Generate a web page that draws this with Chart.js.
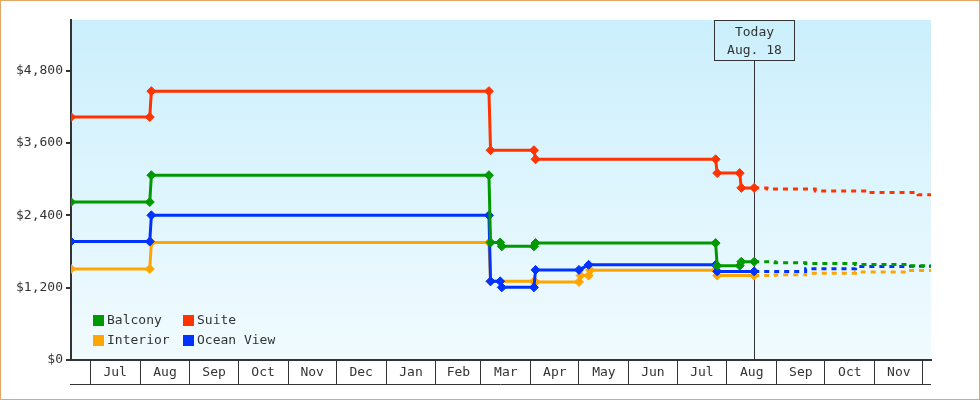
<!DOCTYPE html>
<html>
<head>
<meta charset="utf-8">
<script src="https://cdn.jsdelivr.net/npm/chart.js@4.4.1/dist/chart.umd.min.js"></script>
<style>
html,body{margin:0;padding:0;background:#fff;}
canvas{display:block;}
</style>
</head>
<body>
<canvas id="c" width="980" height="400"></canvas>
<script>
// ---- data ----
const monthStarts = ['2014-07-01','2014-08-01','2014-09-01','2014-10-01','2014-11-01','2014-12-01','2015-01-01','2015-02-01','2015-03-01','2015-04-01','2015-05-01','2015-06-01','2015-07-01','2015-08-01','2015-09-01','2015-10-01','2015-11-01','2015-12-01'];
const monthLabels = ['Jul','Aug','Sep','Oct','Nov','Dec','Jan','Feb','Mar','Apr','May','Jun','Jul','Aug','Sep','Oct','Nov'];
const yTicks = [0, 1200, 2400, 3600, 4800];
const xStart = '2014-06-19';
const xEnd = '2015-12-06';
const yMax = 5640;
const todayDate = '2015-08-18';
const todayText = ['Today', 'Aug. 18'];
const seriesNames = ['Balcony', 'Suite', 'Interior', 'Ocean View'];

const balcony = [['2014-06-19',2620],['2014-08-07',2620],['2014-08-08',3065],['2015-03-06',3065],['2015-03-07',1950],['2015-03-13',1950],['2015-03-14',1885],['2015-04-03',1885],['2015-04-04',1940],['2015-07-25',1940],['2015-07-26',1565],['2015-08-09',1565],['2015-08-10',1630],['2015-08-18',1630]];
const suite = [['2014-06-19',4030],['2014-08-07',4030],['2014-08-08',4460],['2015-03-06',4460],['2015-03-07',3480],['2015-04-03',3480],['2015-04-04',3330],['2015-07-25',3330],['2015-07-26',3100],['2015-08-09',3100],['2015-08-10',2855],['2015-08-18',2855]];
const interior = [['2014-06-19',1510],['2014-08-07',1510],['2014-08-08',1950],['2015-03-06',1950],['2015-03-07',1305],['2015-04-03',1305],['2015-04-04',1295],['2015-05-01',1295],['2015-05-02',1400],['2015-05-07',1400],['2015-05-08',1490],['2015-07-25',1490],['2015-07-26',1400],['2015-08-18',1400]];
const oceanView = [['2014-06-19',1965],['2014-08-07',1965],['2014-08-08',2400],['2015-03-06',2400],['2015-03-07',1305],['2015-03-13',1305],['2015-03-14',1205],['2015-04-03',1205],['2015-04-04',1495],['2015-05-01',1495],['2015-05-07',1578],['2015-07-25',1578],['2015-07-26',1470],['2015-08-18',1470]];

const balconyForecast = [['2015-08-18',1630],['2015-08-31',1612],['2015-09-19',1600],['2015-10-20',1585],['2015-11-22',1565],['2015-12-06',1565]];
const suiteForecast = [['2015-08-18',2855],['2015-08-26',2835],['2015-09-25',2805],['2015-10-27',2778],['2015-11-28',2740],['2015-12-06',2740]];
const interiorForecast = [['2015-08-18',1400],['2015-08-31',1415],['2015-09-19',1440],['2015-10-20',1458],['2015-11-22',1485],['2015-12-06',1485]];
const oceanViewForecast = [['2015-08-18',1470],['2015-09-19',1515],['2015-10-20',1550],['2015-11-22',1555],['2015-12-06',1555]];

const colors = ['#009900', '#ff3300', '#ffa500', '#0033ff'];
const drawOrder = [1, 2, 4, 3];

// ---- helpers ----
const day = s => Date.parse(s) / 86400000;
const toXY = arr => arr.map(([d, v]) => ({x: day(d), y: v}));
const FONT = {family: '"DejaVu Sans Mono", monospace', size: 13};
const INK = '#333333';

const history = [balcony, suite, interior, oceanView];
const forecast = [balconyForecast, suiteForecast, interiorForecast, oceanViewForecast];

const datasets = [];
history.forEach((h, i) => {
  datasets.push({
    label: seriesNames[i], data: toXY(h), borderColor: colors[i], backgroundColor: colors[i],
    borderWidth: 3, pointStyle: 'rectRot', pointRadius: 4.5, pointBorderWidth: 1,
    pointBackgroundColor: colors[i], pointBorderColor: colors[i], order: drawOrder[i],
    isMain: true
  });
});
forecast.forEach((f, i) => {
  datasets.push({
    label: seriesNames[i] + ' forecast', data: toXY(f), borderColor: colors[i], backgroundColor: colors[i],
    borderWidth: 3, borderDash: [5, 5], pointRadius: 0, stepped: true, order: drawOrder[i] + 0.5,
    isMain: false
  });
});

// month boundary + mid ticks
const boundaryVals = monthStarts.map(day);
const labelMap = {};
const midVals = monthLabels.map((l, i) => {
  const v = (boundaryVals[i] + boundaryVals[i + 1]) / 2;
  labelMap[v] = l;
  return v;
});
const boundarySet = new Set(boundaryVals);

const bgPlugin = {
  id: 'bg',
  beforeDraw(chart) {
    const {ctx, chartArea: a, width, height} = chart;
    ctx.save();
    ctx.fillStyle = '#ffffff';
    ctx.fillRect(0, 0, width, height);
    const g = ctx.createLinearGradient(0, a.top, 0, a.bottom);
    g.addColorStop(0, '#cbeffc');
    g.addColorStop(1, '#f1fbff');
    ctx.fillStyle = g;
    ctx.fillRect(a.left, a.top, a.right - a.left, a.bottom - a.top);
    ctx.strokeStyle = '#e3a664';
    ctx.lineWidth = 1;
    ctx.strokeRect(0.5, 0.5, width - 1, height - 1);
    ctx.restore();
  },
  afterDraw(chart) {
    const {ctx, chartArea: a} = chart;
    const xs = chart.scales.x;
    ctx.save();
    ctx.strokeStyle = INK;
    ctx.lineWidth = 1;
    ctx.beginPath();
    ctx.moveTo(a.left - 1, Math.round(xs.bottom) - 0.5);
    ctx.lineTo(a.right, Math.round(xs.bottom) - 0.5);
    ctx.stroke();
    ctx.restore();
  }
};

const todayPlugin = {
  id: 'today',
  beforeDatasetsDraw(chart) {
    const {ctx, chartArea: a} = chart;
    const x = Math.round(chart.scales.x.getPixelForValue(day(todayDate))) + 0.5;
    const boxW = 80, boxH = 40;
    const top = a.top + 0.5;
    ctx.save();
    ctx.strokeStyle = INK;
    ctx.lineWidth = 1;
    ctx.beginPath();
    ctx.moveTo(x, top + boxH);
    ctx.lineTo(x, a.bottom);
    ctx.stroke();
    ctx.strokeRect(x - boxW / 2, top, boxW, boxH);
    ctx.fillStyle = INK;
    ctx.font = '13px "DejaVu Sans Mono", monospace';
    ctx.textAlign = 'center';
    ctx.textBaseline = 'middle';
    ctx.fillText(todayText[0], x, top + 12);
    ctx.fillText(todayText[1], x, top + 30);
    ctx.restore();
  }
};

const legendPlugin = {
  id: 'boxLegend',
  afterDatasetsDraw(chart) {
    const {ctx, chartArea: a} = chart;
    const items = chart.data.datasets.filter(d => d.isMain);
    ctx.save();
    ctx.font = '13px "DejaVu Sans Mono", monospace';
    ctx.textBaseline = 'middle';
    ctx.textAlign = 'left';
    items.forEach((d, i) => {
      const col = i % 2, row = Math.floor(i / 2);
      const bx = a.left + 22 + col * 90;
      const by = a.bottom - 45 + row * 20;
      ctx.fillStyle = d.borderColor;
      ctx.fillRect(bx, by, 11, 11);
      ctx.fillStyle = INK;
      ctx.fillText(d.label, bx + 14, by + 6);
    });
    ctx.restore();
  }
};

new Chart(document.getElementById('c'), {
  type: 'line',
  data: {datasets},
  options: {
    responsive: false,
    animation: false,
    devicePixelRatio: 1,
    layout: {padding: {top: 20, right: 49, bottom: 15, left: 0}},
    plugins: {legend: {display: false}, tooltip: {enabled: false}},
    elements: {line: {tension: 0}},
    scales: {
      x: {
        type: 'linear',
        min: day(xStart),
        max: day(xEnd),
        afterBuildTicks: s => {
          s.ticks = [...boundaryVals, ...midVals].sort((p, q) => p - q).map(v => ({value: v}));
        },
        afterFit: s => { s.height = 25; },
        ticks: {
          autoSkip: false, maxRotation: 0, minRotation: 0,
          padding: -20, color: INK, font: FONT,
          callback: v => labelMap[v] || ''
        },
        grid: {
          drawOnChartArea: false, drawTicks: true, tickLength: 25, lineWidth: 1,
          color: c => boundarySet.has(c.tick && c.tick.value) ? INK : 'rgba(0,0,0,0)'
        },
        border: {display: true, color: INK, width: 2}
      },
      y: {
        type: 'linear',
        min: 0,
        max: yMax,
        afterBuildTicks: s => { s.ticks = yTicks.map(v => ({value: v})); },
        afterFit: s => { s.width = 71; },
        ticks: {
          padding: 3, color: INK, font: FONT,
          callback: v => '$' + v.toLocaleString('en-US')
        },
        grid: {drawOnChartArea: false, drawTicks: true, tickLength: 5, lineWidth: 2, color: INK},
        border: {display: true, color: INK, width: 2}
      }
    }
  },
  plugins: [bgPlugin, todayPlugin, legendPlugin]
});
</script>
</body>
</html>
